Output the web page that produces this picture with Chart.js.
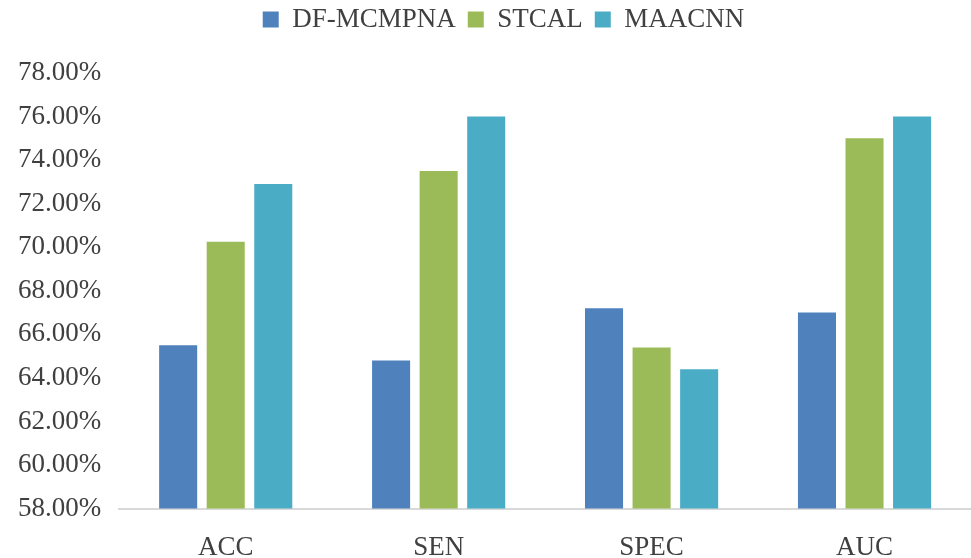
<!DOCTYPE html>
<html>
<head>
<meta charset="utf-8">
<script src="https://cdn.jsdelivr.net/npm/chart.js@4"></script>
<style>
    html, body { margin: 0; padding: 0; background: #ffffff; }
    #wrap { width: 971px; height: 558px; }
</style>
</head>
<body>
<div id="wrap"><canvas id="chart1" width="971" height="558"></canvas></div>
<script>
// Data
const metrics = ['ACC', 'SEN', 'SPEC', 'AUC'];
const dfMcmpna = [65.5, 64.8, 67.2, 67.0];
const stcal = [70.25, 73.5, 65.4, 75.0];
const maacnn = [72.9, 76.0, 64.4, 76.0];
const yMin = 58;
const yMax = 78;
const yStep = 2;

const serif = "'Liberation Serif', 'Times New Roman', serif";
const textColor = '#404040';

// Extra room under the legend, and nudge it a bit to the right
const legendGap = {
    id: 'legendGap',
    beforeInit(chart) {
        const fit = chart.legend.fit;
        chart.legend.fit = function () {
            fit.bind(chart.legend)();
            this.height += 30;
        };
    },
    afterLayout(chart) {
        chart.legend.left += 14;
        chart.legend.right += 14;
    }
};

const ctx1 = document.getElementById('chart1').getContext('2d');
const chart1Instance = new Chart(ctx1, {
    type: 'bar',
    data: {
        labels: metrics,
        datasets: [
            { label: 'DF-MCMPNA', data: dfMcmpna, backgroundColor: '#4F81BD' },
            { label: 'STCAL', data: stcal, backgroundColor: '#9BBB59' },
            { label: 'MAACNN', data: maacnn, backgroundColor: '#4BACC6' }
        ]
    },
    options: {
        responsive: false,
        maintainAspectRatio: false,
        animation: false,
        categoryPercentage: 0.67,
        barPercentage: 0.8,
        layout: { padding: { left: 8, right: 0, top: -6, bottom: 0 } },
        plugins: {
            tooltip: { enabled: false },
            legend: {
                position: 'top',
                labels: {
                    boxWidth: 16,
                    boxHeight: 16,
                    padding: 12,
                    color: textColor,
                    font: { family: serif, size: 27 }
                }
            }
        },
        scales: {
            x: {
                grid: { display: false },
                border: { display: true, color: '#d9d9d9', width: 2 },
                afterFit: (scale) => { scale.height -= 21; },
                ticks: {
                    color: textColor,
                    padding: 15,
                    font: { family: serif, size: 27 }
                }
            },
            y: {
                min: yMin,
                max: yMax,
                grid: { display: false },
                border: { display: false },
                ticks: {
                    stepSize: yStep,
                    padding: 10,
                    color: textColor,
                    font: { family: serif, size: 27 },
                    callback: (v) => v.toFixed(2) + '%'
                }
            }
        }
    },
    plugins: [legendGap]
});
</script>
</body>
</html>
